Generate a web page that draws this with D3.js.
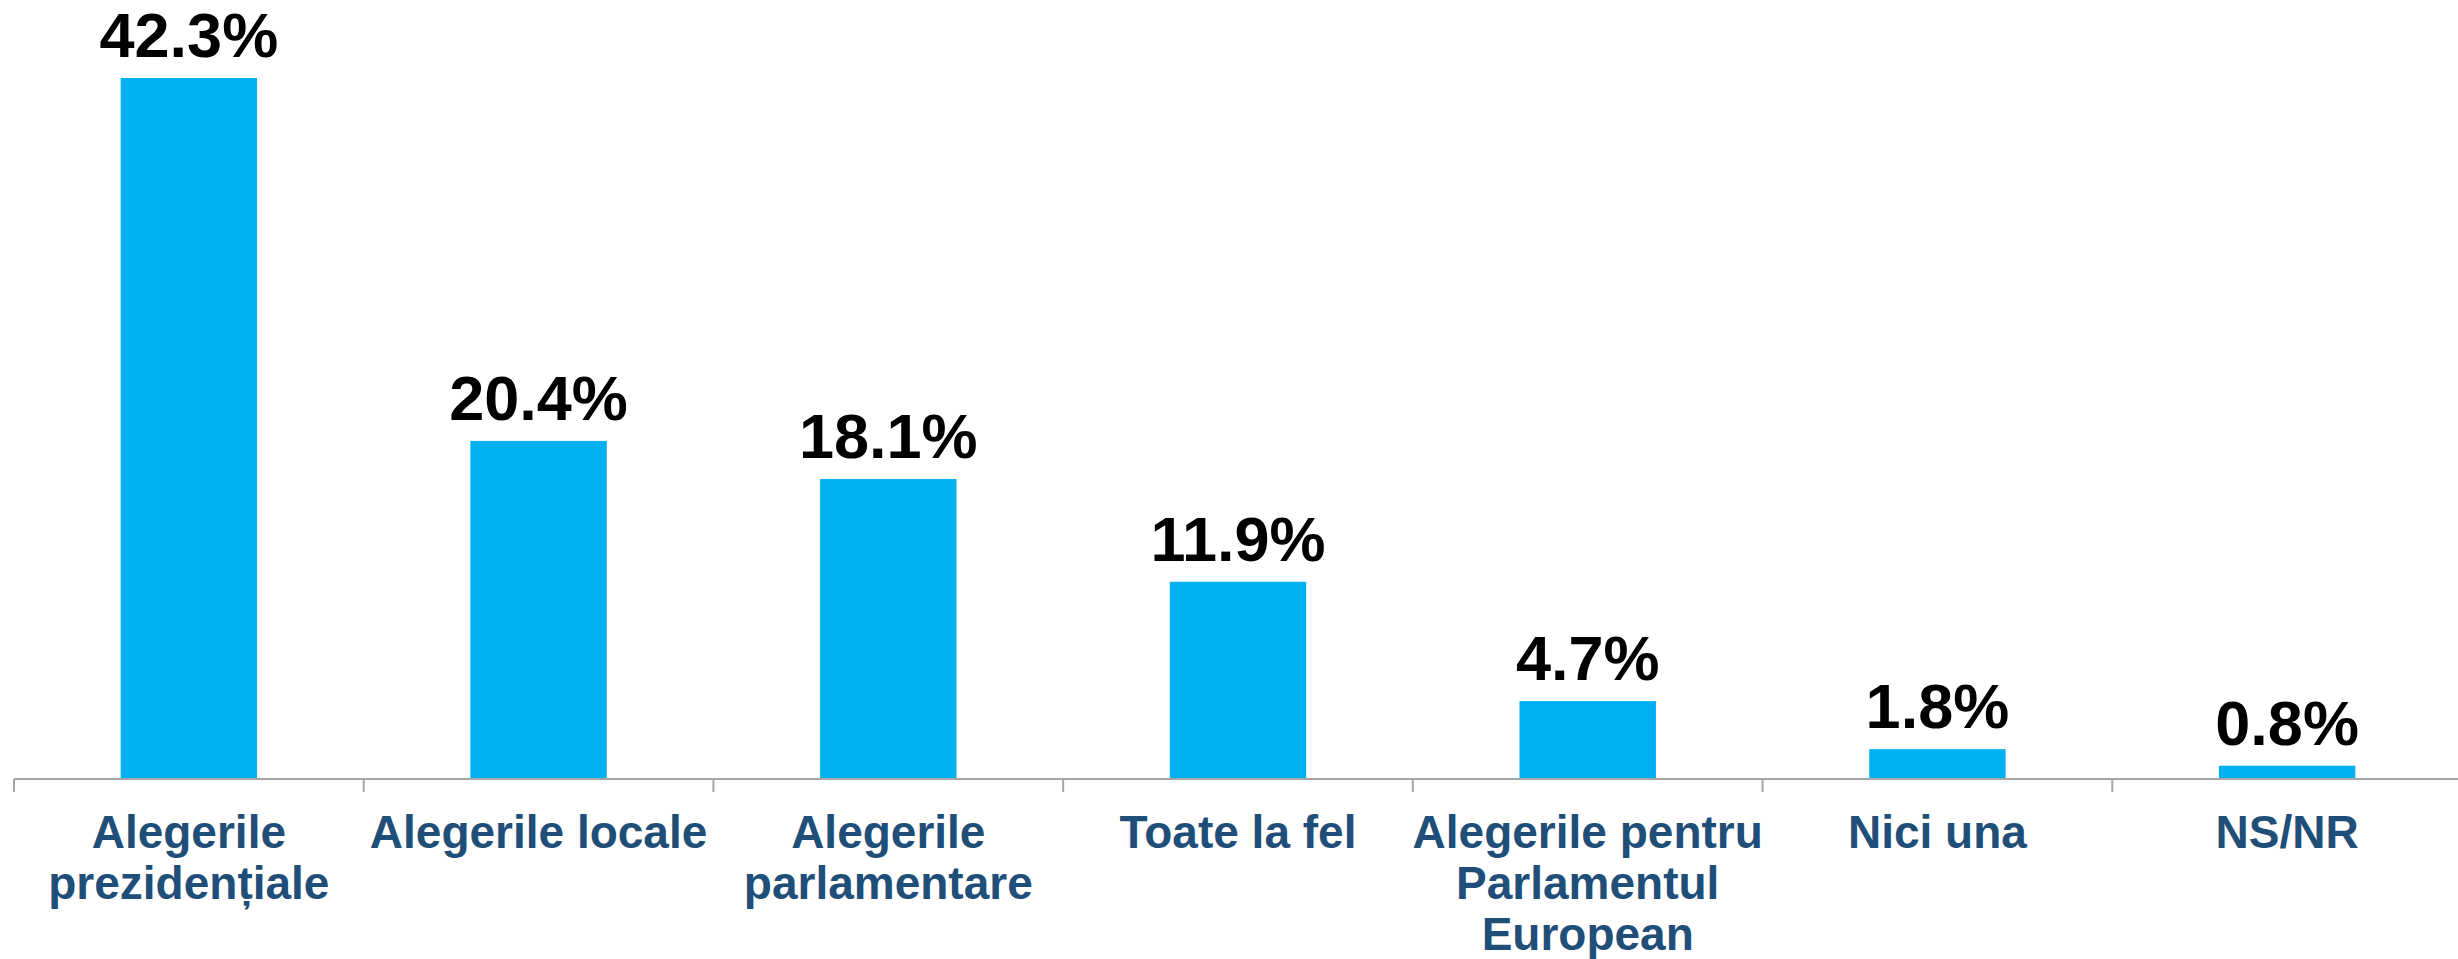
<!DOCTYPE html>
<html>
<head>
<meta charset="utf-8">
<script src="https://cdn.jsdelivr.net/npm/d3@7"></script>
<style>
  html, body { margin: 0; padding: 0; background: #fff; }
  svg { display: block; }
</style>
</head>
<body>
<div id="chart"></div>
<script>
// Data
const categories = [
    "Alegerile\nprezidențiale",
    "Alegerile locale",
    "Alegerile\nparlamentare",
    "Toate la fel",
    "Alegerile pentru\nParlamentul\nEuropean",
    "Nici una",
    "NS/NR"
];
const values = [42.3, 20.4, 18.1, 11.9, 4.7, 1.8, 0.8];
const valueLabels = ["42.3%", "20.4%", "18.1%", "11.9%", "4.7%", "1.8%", "0.8%"];

// Layout
const width = 2458, height = 959;
const axisY = 779;
const left = 14, right = 2462;

const svg = d3.select("#chart")
    .append("svg")
    .attr("width", width)
    .attr("height", height);

const x = d3.scaleBand()
    .domain(d3.range(categories.length))
    .range([left, right])
    .paddingInner(0.61)
    .paddingOuter(0.305);

// band step for tick marks
const step = (right - left) / categories.length;

const y = d3.scaleLinear()
    .domain([0, 42.3])
    .range([axisY, 78]);

// Bars
svg.append("g").selectAll("rect")
    .data(values)
    .join("rect")
    .attr("x", (d, i) => x(i))
    .attr("y", d => y(d))
    .attr("width", x.bandwidth())
    .attr("height", d => axisY - y(d))
    .attr("fill", "#00B0F0");

// Axis line + ticks
const axis = svg.append("g").attr("stroke", "#A6A6A6").attr("stroke-width", 2);
axis.append("line")
    .attr("x1", left).attr("x2", width)
    .attr("y1", axisY).attr("y2", axisY);
axis.selectAll("line.tick")
    .data(d3.range(categories.length + 1))
    .join("line")
    .attr("class", "tick")
    .attr("x1", i => left + i * step)
    .attr("x2", i => left + i * step)
    .attr("y1", axisY)
    .attr("y2", axisY + 13);

// Value labels
svg.append("g").selectAll("text")
    .data(values)
    .join("text")
    .attr("x", (d, i) => x(i) + x.bandwidth() / 2)
    .attr("y", d => y(d) - 21)
    .attr("text-anchor", "middle")
    .style("font-family", "'Liberation Sans', Arial, sans-serif")
    .style("font-weight", "bold")
    .style("font-size", "63px")
    .attr("fill", "#000")
    .text((d, i) => valueLabels[i]);

// Category labels
const catG = svg.append("g").selectAll("text")
    .data(categories)
    .join("text")
    .attr("x", (d, i) => x(i) + x.bandwidth() / 2)
    .attr("y", 848)
    .attr("text-anchor", "middle")
    .style("font-family", "'Liberation Sans', Arial, sans-serif")
    .style("font-weight", "bold")
    .style("font-size", "46px")
    .attr("fill", "#1F4E79");

catG.each(function(d, i) {
    const t = d3.select(this);
    d.split("\n").forEach((line, j) => {
        t.append("tspan")
            .attr("x", x(i) + x.bandwidth() / 2)
            .attr("dy", j === 0 ? 0 : 51)
            .text(line);
    });
});
</script>
</body>
</html>
